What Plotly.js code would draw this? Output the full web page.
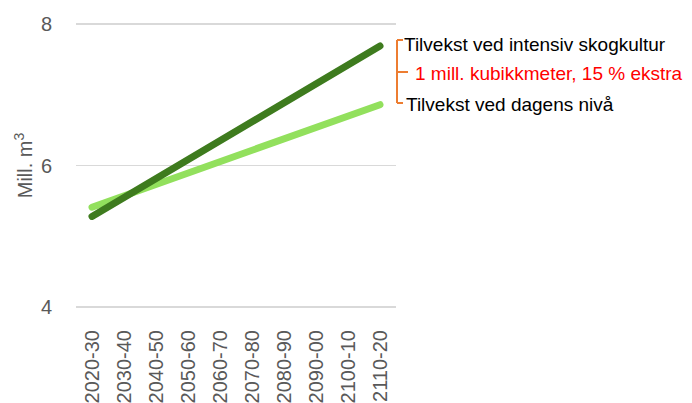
<!DOCTYPE html>
<html>
<head>
<meta charset="utf-8">
<script src="https://cdn.plot.ly/plotly-3.0.1.min.js"></script>
<style>
  html, body { margin: 0; padding: 0; background: #fff; }
  #chart { width: 692px; height: 403px; }
  .js-line { stroke-linecap: round; }
</style>
</head>
<body>
<div id="chart"></div>
<script>
// Ten-year periods
const periods = ['2020-30', '2030-40', '2040-50', '2050-60', '2060-70',
                 '2070-80', '2080-90', '2090-00', '2100-10', '2110-20'];

// Annual growth, million m3
const growthToday     = [5.41, 5.57, 5.73, 5.89, 6.05, 6.22, 6.38, 6.54, 6.70, 6.86];
const growthIntensive = [5.28, 5.55, 5.82, 6.08, 6.35, 6.62, 6.89, 7.15, 7.42, 7.69];

const labelIntensive = 'Tilvekst ved intensiv skogkultur';
const labelExtra     = '1 mill. kubikkmeter, 15 % ekstra';
const labelToday     = 'Tilvekst ved dagens nivå';

const W = 692, H = 403;
const M = { l: 76, r: 296, t: 22, b: 94 };
const plotW = W - M.l - M.r, plotH = H - M.t - M.b;
const px = x => (x - M.l) / plotW;          // pixel -> paper x
const py = y => (H - M.b - y) / plotH;      // pixel -> paper y

const traces = [
  { x: periods, y: growthToday, type: 'scatter', mode: 'lines',
    line: { color: '#92e05d', width: 7 }, hoverinfo: 'skip' },
  { x: periods, y: growthIntensive, type: 'scatter', mode: 'lines',
    line: { color: '#3e7b1e', width: 7 }, hoverinfo: 'skip' }
];

const font = '"Liberation Sans", Arial, sans-serif';
const bracket = '#ed7d31';

const layout = {
  width: W, height: H,
  margin: M,
  paper_bgcolor: '#fff', plot_bgcolor: '#fff',
  showlegend: false,
  font: { family: font, color: '#595959' },
  xaxis: {
    type: 'category', range: [-0.5, 9.5],
    tickangle: -90, tickfont: { size: 20, color: '#595959' },
    showgrid: false, zeroline: false, showline: false,
    ticks: 'outside', ticklen: 12, tickcolor: 'rgba(0,0,0,0)',
    fixedrange: true
  },
  yaxis: {
    range: [3.97, 8.03], tickvals: [4, 6, 8], ticktext: ['4', '6', '8'],
    tickfont: { size: 20, color: '#595959' },
    showgrid: true, gridcolor: '#d9d9d9', gridwidth: 1.5,
    zeroline: false, showline: false, ticks: 'outside', ticklen: 19, tickcolor: 'rgba(0,0,0,0)',
    title: { text: 'Mill. m<sup>3</sup>', font: { size: 20, color: '#595959' }, standoff: 2 },
    fixedrange: true
  },
  shapes: [
    { type: 'line', xref: 'paper', yref: 'paper', x0: px(397), x1: px(397), y0: py(40), y1: py(103),
      line: { color: bracket, width: 2 } },
    { type: 'line', xref: 'paper', yref: 'paper', x0: px(397), x1: px(403), y0: py(40), y1: py(40),
      line: { color: bracket, width: 2 } },
    { type: 'line', xref: 'paper', yref: 'paper', x0: px(397), x1: px(403), y0: py(103), y1: py(103),
      line: { color: bracket, width: 2 } },
    { type: 'line', xref: 'paper', yref: 'paper', x0: px(397), x1: px(408), y0: py(72), y1: py(72),
      line: { color: bracket, width: 2 } }
  ],
  annotations: [
    { text: labelIntensive, xref: 'paper', yref: 'paper', x: px(402), y: py(44),
      xanchor: 'left', yanchor: 'middle', showarrow: false,
      font: { family: font, size: 19, color: '#000' } },
    { text: labelExtra, xref: 'paper', yref: 'paper', x: px(413), y: py(74),
      xanchor: 'left', yanchor: 'middle', showarrow: false,
      font: { family: font, size: 19, color: '#ff0000' } },
    { text: labelToday, xref: 'paper', yref: 'paper', x: px(404), y: py(104),
      xanchor: 'left', yanchor: 'middle', showarrow: false,
      font: { family: font, size: 19, color: '#000' } }
  ]
};

Plotly.newPlot('chart', traces, layout, { staticPlot: true, displayModeBar: false });
</script>
</body>
</html>
